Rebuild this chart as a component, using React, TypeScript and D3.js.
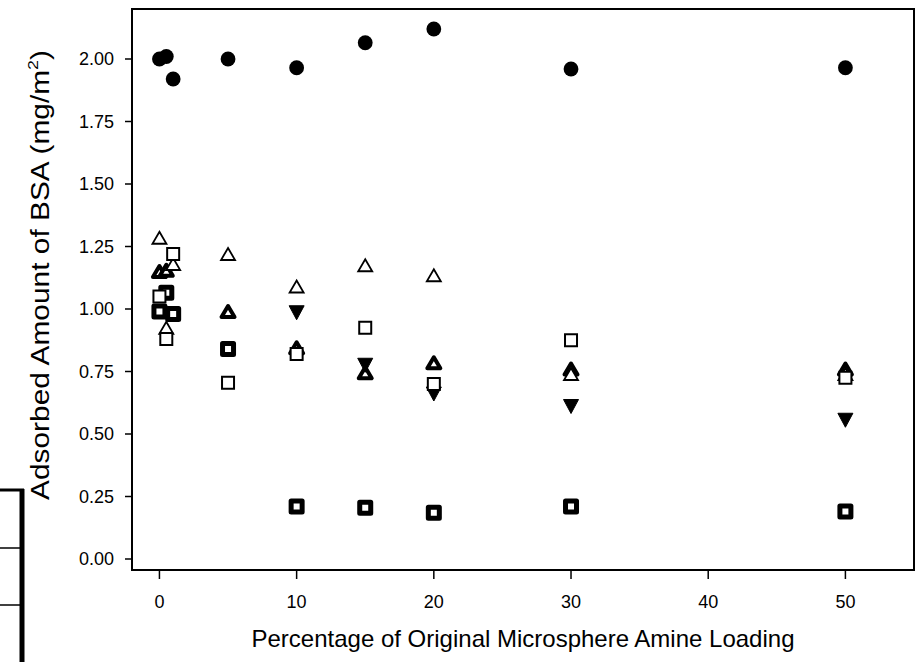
import React from "react";
import * as d3 from "d3";

const xTicks = [0, 10, 20, 30, 40, 50];
const yTicks = [0, 0.25, 0.5, 0.75, 1.0, 1.25, 1.5, 1.75, 2.0];

const circleX = [0, 0.5, 1, 5, 10, 15, 20, 30, 50];
const circleY = [2.0, 2.01, 1.92, 2.0, 1.965, 2.065, 2.12, 1.96, 1.965];

const boldTriX = [0, 0.5, 5, 10, 15, 20, 30, 50];
const boldTriY = [1.15, 1.155, 0.99, 0.845, 0.745, 0.785, 0.76, 0.76];

const downTriX = [10, 15, 20, 30, 50];
const downTriY = [0.985, 0.775, 0.66, 0.61, 0.555];

const boldSqX = [0, 0.5, 1, 5, 10, 15, 20, 30, 50];
const boldSqY = [0.99, 1.065, 0.98, 0.84, 0.21, 0.205, 0.185, 0.21, 0.19];

const openTriX = [0, 0.5, 1, 5, 10, 15, 20, 30, 50];
const openTriY = [1.285, 0.925, 1.18, 1.22, 1.09, 1.175, 1.135, 0.74, 0.74];

const openSqX = [0, 0.5, 1, 5, 10, 15, 20, 30, 50];
const openSqY = [1.05, 0.88, 1.22, 0.705, 0.82, 0.925, 0.7, 0.875, 0.725];

const W = 916;
const H = 662;
const L = 132, R = 914, T = 9, B = 570;

const x = d3.scaleLinear().domain([-2, 55]).range([L, R]);
const y = d3.scaleLinear().domain([-0.044, 2.2]).range([B, T]);

const font = "'Liberation Sans', Arial, sans-serif";

const upTri = (w: number, h: number) => `M0,${-h / 2}L${w / 2},${h / 2}L${-w / 2},${h / 2}Z`;
const downTri = (w: number, h: number) => `M0,${h / 2}L${w / 2},${-h / 2}L${-w / 2},${-h / 2}Z`;

function pts(xs: number[], ys: number[]) {
  return xs.map((v, i) => [x(v), y(ys[i])] as [number, number]);
}

export default function App() {
  return (
    <svg width={W} height={H} style={{ position: "absolute", left: 0, top: 0, background: "#fff" }}>
      <rect x={0} y={0} width={W} height={H} fill="#fff" />
      {/* stray box at lower left */}
      <line x1={0} x2={24} y1={490} y2={490} stroke="#000" strokeWidth={3} />
      <line x1={22} x2={22} y1={489} y2={H} stroke="#000" strokeWidth={5} />
      <line x1={0} x2={20} y1={548} y2={548} stroke="#000" strokeWidth={1.5} />
      <line x1={0} x2={20} y1={605} y2={605} stroke="#000" strokeWidth={1.5} />

      {/* frame */}
      <rect x={L} y={T} width={R - L} height={B - T} fill="none" stroke="#000" strokeWidth={2} />

      {/* y ticks */}
      {yTicks.map((t) => (
        <g key={"y" + t}>
          <line x1={L - 7} x2={L} y1={y(t)} y2={y(t)} stroke="#000" strokeWidth={1.5} />
          <text x={114} y={y(t)} textAnchor="end" dominantBaseline="central" fontFamily={font} fontSize={18}>
            {t.toFixed(2)}
          </text>
        </g>
      ))}
      {/* x ticks */}
      {xTicks.map((t) => (
        <g key={"x" + t}>
          <line x1={x(t)} x2={x(t)} y1={B} y2={B + 9} stroke="#000" strokeWidth={1.5} />
          <text x={x(t)} y={608} textAnchor="middle" fontFamily={font} fontSize={18}>
            {t}
          </text>
        </g>
      ))}

      <text x={(L + R) / 2} y={647} textAnchor="middle" fontFamily={font} fontSize={24}>
        Percentage of Original Microsphere Amine Loading
      </text>
      <text
        transform={`translate(49, 275) rotate(-90)`}
        textAnchor="middle"
        fontFamily={font}
        fontSize={25}
        textLength={450}
        lengthAdjust="spacingAndGlyphs"
      >
        Adsorbed Amount of BSA (mg/m
        <tspan fontSize={15} dy={-11}>2</tspan>
        <tspan dy={11}>)</tspan>
      </text>

      {/* series */}
      {pts(circleX, circleY).map(([px, py], i) => (
        <circle key={"c" + i} cx={px} cy={py} r={7.4} fill="#000" />
      ))}
      {pts(boldTriX, boldTriY).map(([px, py], i) => (
        <path key={"bt" + i} transform={`translate(${px},${py})`} d={upTri(13, 11)} fill="#fff" stroke="#000" strokeWidth={4} strokeLinejoin="round" />
      ))}
      {pts(downTriX, downTriY).map(([px, py], i) => (
        <path key={"dt" + i} transform={`translate(${px},${py})`} d={downTri(15, 14)} fill="#000" stroke="#000" strokeWidth={1} />
      ))}
      {pts(boldSqX, boldSqY).map(([px, py], i) => (
        <rect key={"bs" + i} x={px - 5.5} y={py - 5.5} width={11} height={11} fill="#fff" stroke="#000" strokeWidth={5} strokeLinejoin="round" />
      ))}
      {pts(openTriX, openTriY).map(([px, py], i) => (
        <path key={"ot" + i} transform={`translate(${px},${py})`} d={upTri(14, 12)} fill="#fff" stroke="#000" strokeWidth={1.8} />
      ))}
      {pts(openSqX, openSqY).map(([px, py], i) => (
        <rect key={"os" + i} x={px - 6} y={py - 6} width={12} height={12} fill="#fff" stroke="#000" strokeWidth={2} />
      ))}
    </svg>
  );
}
